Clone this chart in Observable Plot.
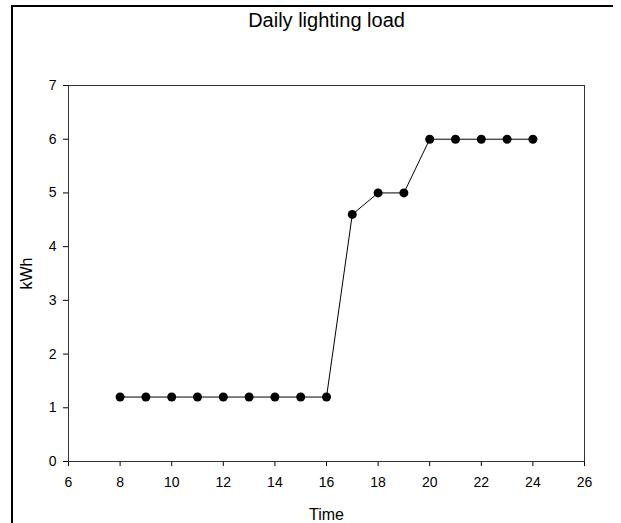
<!DOCTYPE html>
<html>
<head>
<meta charset="utf-8">
<script src="https://cdn.jsdelivr.net/npm/d3@7"></script>
<script src="https://cdn.jsdelivr.net/npm/@observablehq/plot@0.6"></script>
<style>
  html, body { margin: 0; padding: 0; background: #fff; }
  #wrap { position: relative; width: 621px; height: 523px; overflow: hidden; }
  #border { position: absolute; left: 11px; top: 5px; width: 602px; height: 530px;
            border-left: 2px solid #000; border-top: 2px solid #000; box-sizing: border-box; pointer-events: none; }
  svg { position: absolute; left: 0; top: 0; }
</style>
</head>
<body>
<div id="wrap"><div id="border"></div></div>
<script>
const title = "Daily lighting load";
const xLabel = "Time";
const yLabel = "kWh";
const hours = [8, 9, 10, 11, 12, 13, 14, 15, 16, 17, 18, 19, 20, 21, 22, 23, 24];
const kwh = [1.2, 1.2, 1.2, 1.2, 1.2, 1.2, 1.2, 1.2, 1.2, 4.6, 5, 5, 6, 6, 6, 6, 6];
const xTicks = [6, 8, 10, 12, 14, 16, 18, 20, 22, 24, 26];
const yTicks = [0, 1, 2, 3, 4, 5, 6, 7];

const data = hours.map((h, i) => ({ time: h, kwh: kwh[i] }));

const chart = Plot.plot({
  width: 621,
  height: 523,
  marginLeft: 68,
  marginRight: 37,
  marginTop: 85,
  marginBottom: 62,
  style: { fontFamily: "'Liberation Sans', Arial, sans-serif", fontSize: "14px", color: "#000", background: "transparent" },
  x: { domain: [6, 26], ticks: xTicks, tickFormat: "d", tickSize: 5, tickPadding: 11, label: xLabel, labelAnchor: "center", labelArrow: "none", labelOffset: 58 },
  y: { domain: [0, 7], ticks: yTicks, tickFormat: "d", tickSize: 5, tickPadding: 7, label: yLabel, labelAnchor: "center", labelArrow: "none", labelOffset: 48 },
  marks: [
    Plot.frame({ stroke: "#333", strokeWidth: 1 }),
    Plot.line(data, { x: "time", y: "kwh", stroke: "#000", strokeWidth: 1 }),
    Plot.dot(data, { x: "time", y: "kwh", r: 4.5, fill: "#000", stroke: "none" }),
    Plot.text([title], { frameAnchor: "top", lineAnchor: "top", dy: -73, text: d => d, fontSize: 20, fill: "#000" })
  ]
});
chart.querySelectorAll('g[aria-label="x-axis label"], g[aria-label="y-axis label"]').forEach(g => {
  g.setAttribute("font-size", "16");
  g.querySelectorAll("text").forEach(t => t.setAttribute("font-size", "16"));
});
document.getElementById("wrap").appendChild(chart);
</script>
</body>
</html>
